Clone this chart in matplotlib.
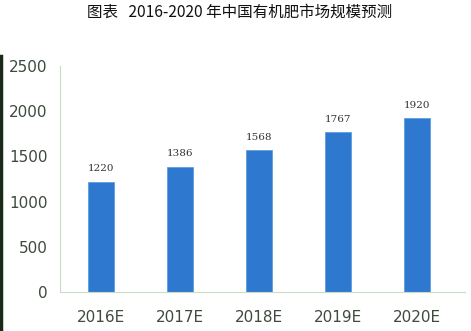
import matplotlib.pyplot as plt
from matplotlib.lines import Line2D

plt.rcParams['font.family'] = ['DejaVu Sans']

years = ['2016E', '2017E', '2018E', '2019E', '2020E']
market = [1220, 1386, 1568, 1767, 1920]
yticks = [0, 500, 1000, 1500, 2000, 2500]

fig = plt.figure(figsize=(4.71, 3.31), dpi=100)
ax = fig.add_axes([0.127, 0.118, 0.86, 0.683])

x = range(len(years))
ax.bar(x, market, width=0.33, color='#2f78d0', edgecolor='#5aa0e0', linewidth=0.6)
for xi, v in zip(x, market):
    ax.text(xi, v + 95, str(v), ha='center', va='bottom', fontsize=7.5,
            color='#333333', family=['DejaVu Serif'])

ax.set_xlim(-0.52, 4.6)
ax.set_ylim(0, 2500)
ax.set_yticks(yticks)
ax.set_xticks(list(x))
ax.set_xticklabels(years)
ax.tick_params(axis='both', length=0, labelsize=11, colors='#3d4a3d')
ax.tick_params(axis='x', pad=13)
ax.tick_params(axis='y', pad=9)
for s in ['top', 'right']:
    ax.spines[s].set_visible(False)
ax.spines['left'].set_color('#c8dcc8')
ax.spines['bottom'].set_color('#c8dcc8')
ax.spines['left'].set_linewidth(0.8)
ax.spines['bottom'].set_linewidth(0.8)

fig.text(0.508, 0.963, '图表   2016-2020 年中国有机肥市场规模预测', ha='center', va='center',
         fontsize=11.2, color='#111111', family=['Noto Sans CJK SC', 'DejaVu Sans'])

fig.add_artist(Line2D([0.003, 0.003], [0.0, 0.83], transform=fig.transFigure,
                      color='#1a2a1a', linewidth=2.5))

fig.savefig('out.png', dpi=100)
